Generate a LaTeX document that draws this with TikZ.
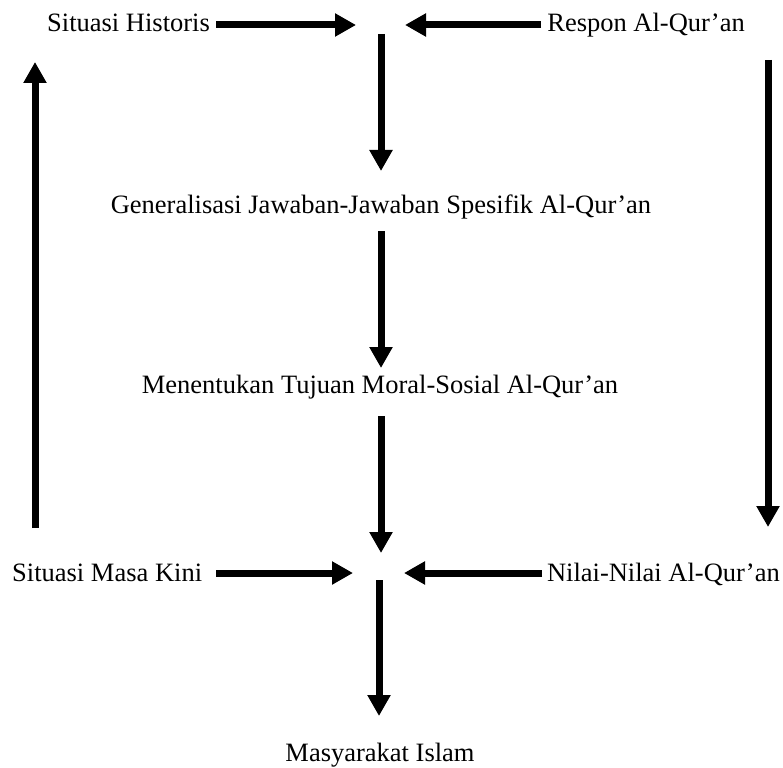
\documentclass[tikz,border=0pt]{standalone}
\usepackage{fontspec}
\setmainfont{Liberation Serif}
\usetikzlibrary{arrows.meta}
\begin{document}
\begin{tikzpicture}[x=1pt,y=1pt,
  lbl/.style={inner sep=0pt,font=\fontsize{26.5}{30}\selectfont},
  arr/.style={line width=7pt,-{Triangle[width=22pt,length=21pt]}}]
\useasboundingbox (0,0) rectangle (783,-767);
% texts
\node[lbl,anchor=base west] (sh) at (47,-32) {Situasi Historis};
\node[lbl,anchor=base east] (ra) at (745,-32) {Respon Al-Qur’an};
\node[lbl,anchor=base] (gj) at (381,-214) {Generalisasi Jawaban-Jawaban Spesifik Al-Qur’an};
\node[lbl,anchor=base] (mt) at (380,-393) {Menentukan Tujuan Moral-Sosial Al-Qur’an};
\node[lbl,anchor=base west] (sm) at (12,-581) {Situasi Masa Kini};
\node[lbl,anchor=base east] (nn) at (780,-581) {Nilai-Nilai Al-Qur’an};
\node[lbl,anchor=base] (mi) at (380,-761) {Masyarakat Islam};
% arrow endpoints
\coordinate (t1a) at (216,-25);  \coordinate (t1b) at (356,-25);
\coordinate (t2a) at (541,-25);  \coordinate (t2b) at (405,-25);
\coordinate (v1a) at (381,-34);  \coordinate (v1b) at (381,-171);
\coordinate (v2a) at (381,-231); \coordinate (v2b) at (381,-368);
\coordinate (v3a) at (381,-416); \coordinate (v3b) at (381,-553);
\coordinate (b1a) at (216,-573); \coordinate (b1b) at (353,-573);
\coordinate (b2a) at (542,-573); \coordinate (b2b) at (404,-573);
\coordinate (v4a) at (379,-580); \coordinate (v4b) at (379,-716);
\coordinate (la) at (35,-528);   \coordinate (lb) at (35,-62);
\coordinate (rA) at (768,-60);   \coordinate (rB) at (768,-527);
% arrows
\draw[arr] (t1a) -- (t1b);
\draw[arr] (t2a) -- (t2b);
\draw[arr] (v1a) -- (v1b);
\draw[arr] (v2a) -- (v2b);
\draw[arr] (v3a) -- (v3b);
\draw[arr] (b1a) -- (b1b);
\draw[arr] (b2a) -- (b2b);
\draw[arr] (v4a) -- (v4b);
\draw[arr] (la) -- (lb);
\draw[arr] (rA) -- (rB);
\end{tikzpicture}
\end{document}
